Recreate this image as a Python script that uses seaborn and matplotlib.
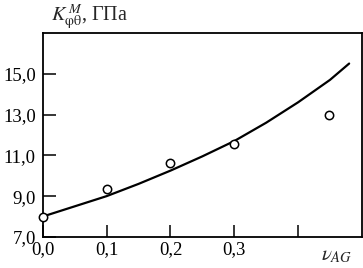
import matplotlib
matplotlib.use('Agg')
import matplotlib.pyplot as plt
import pandas as pd
import seaborn as sns

# Experimental points
v_points = [0.0, 0.1, 0.2, 0.3, 0.448]
k_points = [8.0, 9.35, 10.6, 11.55, 13.0]

# Calculated curve
v_curve = [0.0, 0.05, 0.1, 0.15, 0.2, 0.25, 0.3, 0.35, 0.4, 0.45, 0.48]
k_curve = [8.0, 8.5, 9.0, 9.6, 10.25, 10.95, 11.7, 12.6, 13.6, 14.7, 15.5]

x_ticks = [0.0, 0.1, 0.2, 0.3, 0.4]
x_labels = ['0,0', '0,1', '0,2', '0,3', '']
y_ticks = [7.0, 9.0, 11.0, 13.0, 15.0]
y_labels = ['7,0', '9,0', '11,0', '13,0', '15,0']

sns.set_style('ticks')
plt.rcParams['font.family'] = ['Liberation Serif', 'DejaVu Serif']
plt.rcParams['mathtext.fontset'] = 'stix'

fig = plt.figure(figsize=(3.63, 2.68), dpi=100)
ax = fig.add_axes([0.118, 0.116, 0.879, 0.761])

curve_df = pd.DataFrame({'v': v_curve, 'k': k_curve})
pts_df = pd.DataFrame({'v': v_points, 'k': k_points})

sns.lineplot(data=curve_df, x='v', y='k', ax=ax, color='black', lw=1.6)
sns.scatterplot(data=pts_df, x='v', y='k', ax=ax, marker='o', s=36,
                facecolor='white', edgecolor='black', linewidth=1.1, zorder=3,
                clip_on=False)

ax.set_xlim(0, 0.5)
ax.set_ylim(7, 17)
ax.set_xticks(x_ticks)
ax.set_xticklabels(x_labels)
ax.set_yticks(y_ticks)
ax.set_yticklabels(y_labels)
ax.tick_params(direction='in', length=9, width=1.1, labelsize=13.5, colors='black')
ax.tick_params(axis='x', pad=3)
ax.tick_params(axis='y', pad=5)
ax.set_xlabel('')
ax.set_ylabel('')
for s in ax.spines.values():
    s.set_visible(True)
    s.set_linewidth(1.3)
    s.set_color('black')

fig.text(0.14, 0.94, r'$K^{\,M}_{\mathrm{\varphi\theta}}$, ГПа', fontsize=14.5, va='center', ha='left')
fig.text(0.885, 0.045, r'$\nu_{AG}$', fontsize=15, va='center', ha='left')

fig.savefig('out.png', dpi=100)
